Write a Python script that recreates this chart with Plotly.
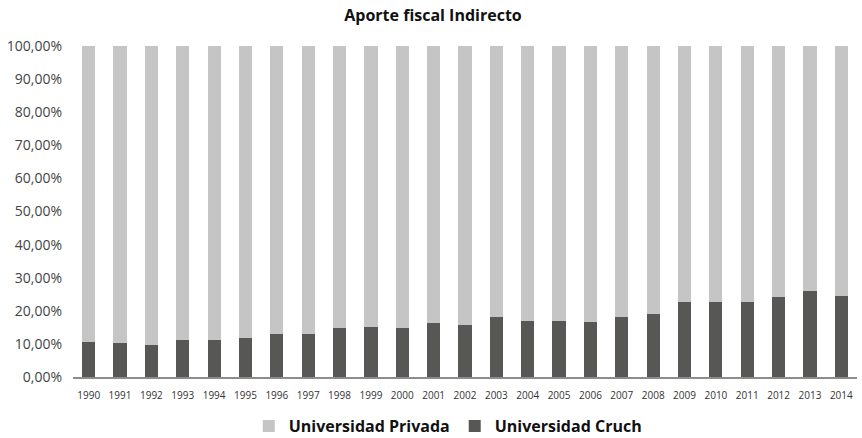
import plotly.graph_objects as go

years = [str(y) for y in range(1990, 2015)]
cruch = [10.7, 10.4, 9.8, 11.3, 11.3, 11.9, 13.1, 13.1, 14.9, 15.2, 14.9, 16.4, 15.8,
         18.2, 17.0, 17.0, 16.7, 18.2, 19.1, 22.7, 22.7, 22.7, 24.3, 26.1, 24.6]
privada = [89.3, 89.6, 90.2, 88.7, 88.7, 88.1, 86.9, 86.9, 85.1, 84.8, 85.1, 83.6, 84.2,
           81.8, 83.0, 83.0, 83.3, 81.8, 80.9, 77.3, 77.3, 77.3, 75.7, 73.9, 75.4]
ytick_vals = [0, 10, 20, 30, 40, 50, 60, 70, 80, 90, 100]
ytick_text = ["0,00%", "10,00%", "20,00%", "30,00%", "40,00%", "50,00%",
              "60,00%", "70,00%", "80,00%", "90,00%", "100,00%"]

font_family = "'Open Sans', Lato, sans-serif"

fig = go.Figure()
fig.add_trace(go.Bar(x=years, y=cruch, name="Universidad Cruch",
                     marker=dict(color="#575756", line=dict(width=0))))
fig.add_trace(go.Bar(x=years, y=privada, name="Universidad Privada",
                     marker=dict(color="#C4C5C4", line=dict(width=0))))

fig.update_layout(
    barmode="stack",
    bargap=0.58,
    width=862, height=438,
    margin=dict(l=73, r=5, t=46, b=61, autoexpand=False),
    paper_bgcolor="white", plot_bgcolor="white",
    font=dict(family=font_family, color="#333333"),
    title=dict(text="<b>Aporte fiscal Indirecto</b>", x=(433 - 73) / 784, xanchor="center",
               xref="paper", y=1 - 15 / 438, yanchor="middle", yref="container",
               font=dict(size=16, color="#111111")),
    showlegend=True,
    legend=dict(orientation="h", x=0.478, xanchor="center", y=-0.148, yanchor="middle",
                traceorder="reversed", font=dict(size=16, color="#111111"),
                itemwidth=30),
    xaxis=dict(type="category", showgrid=False, showline=True, linecolor="#8C8C8C",
               linewidth=2, ticks="", tickfont=dict(size=10, color="#333333"),
               tickangle=0, range=[-0.5, 24.5], ticklabelstandoff=8),
    yaxis=dict(range=[0, 100], tickvals=ytick_vals, ticktext=ytick_text,
               showgrid=False, zeroline=False, showline=False,
               tickfont=dict(size=14, color="#444444"), ticks="", ticklabelstandoff=10),
)
fig.update_layout(legend_font_weight="bold")

fig.write_html("out.html", config={"displayModeBar": False},
               post_script="document.body.style.margin='0';document.body.style.overflow='hidden';")
